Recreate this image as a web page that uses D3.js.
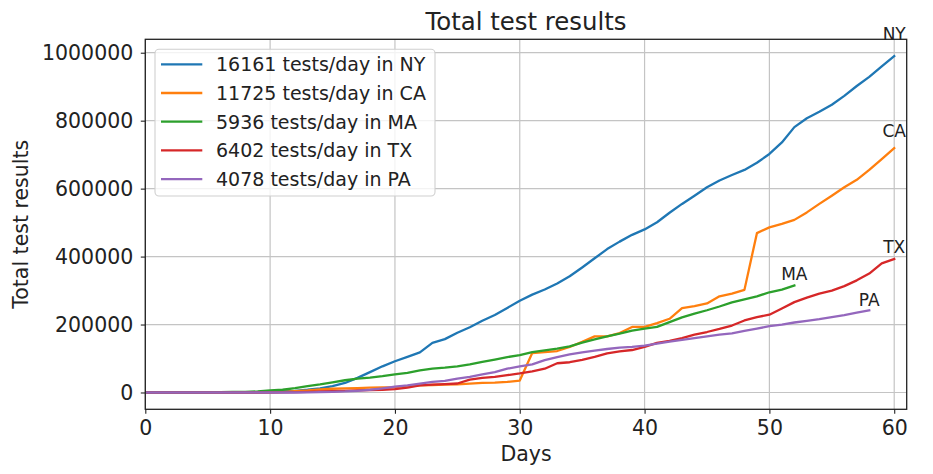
<!DOCTYPE html>
<html>
<head>
<meta charset="utf-8">
<script src="https://cdn.jsdelivr.net/npm/d3@7"></script>
<style>
  html, body { margin: 0; padding: 0; background: #fff; }
  svg { display: block; font-family: "DejaVu Sans", sans-serif; }
</style>
</head>
<body>
<svg id="chart" width="933" height="474"></svg>
<script>
// ---------- data ----------
const seriesNames = ["NY", "CA", "MA", "TX", "PA"];
const legendLabels = [
  "16161 tests/day in NY",
  "11725 tests/day in CA",
  "5936 tests/day in MA",
  "6402 tests/day in TX",
  "4078 tests/day in PA"
];
const colors = ["#1f77b4", "#ff7f0e", "#2ca02c", "#d62728", "#9467bd"];

const nyValues = [0,0,0,0,0,0,0,0,500,1000,
  2000,3000,5000,8000,12000,19000,28000,43000,60000,77000,
  92000,105000,118000,146000,157000,176000,192000,211000,228000,249000,
  270000,288000,303000,321000,342000,368000,395000,422000,444000,464000,
  480000,501000,529000,555000,579000,604000,624000,640000,655000,676000,
  702000,736000,781000,807000,826000,847000,873000,902000,929000,960000,
  990000];
const caValues = [0,0,0,0,0,0,0,0,0,0,
  1000,2000,4000,6000,9000,11000,12000,13000,14000,15000,
  16000,19000,21000,22000,23000,24000,26000,28000,29000,31000,
  35000,116000,119000,122000,134000,149000,165000,165000,175000,193000,
  193000,204000,217000,248000,254000,262000,283000,291000,302000,469000,
  486000,496000,508000,530000,555000,579000,604000,626000,655000,687000,
  719000];
const maValues = [0,0,0,0,0,500,1000,1500,2000,3000,
  6000,8000,13000,19000,24000,30000,36000,41000,44000,48000,
  53000,58000,65000,70000,73000,77000,83000,90000,97000,104000,
  110000,119000,124000,129000,136000,147000,156000,165000,173000,182000,
  188000,193000,207000,221000,232000,242000,253000,265000,274000,283000,
  295000,303000,315000];
const txValues = [0,0,0,0,0,0,0,0,0,0,
  0,500,1000,2000,3000,4000,5000,6000,7000,8000,
  10000,14000,21000,23000,24500,26500,38000,43000,46000,51000,
  56000,62000,70000,86000,89000,96000,105000,115000,121000,125000,
  134000,146000,152000,160000,170000,178000,187000,197000,212000,222000,
  229000,247000,266000,279000,291000,300000,313000,330000,350000,380000,
  393000];
const paValues = [0,0,0,0,0,0,0,0,0,0,
  0,0,0,500,1000,2000,3000,5000,8000,12000,
  17000,21000,26000,31000,34000,41000,46000,53000,60000,70000,
  77000,83000,95000,104000,112000,118000,123000,128000,132000,134000,
  138000,144000,150000,155000,160000,165000,170000,174000,181000,188000,
  195000,200000,206000,211000,216000,222000,228000,235000,242000];

const xTicks = [0, 10, 20, 30, 40, 50, 60];
const yTicks = [0, 200000, 400000, 600000, 800000, 1000000];

const titleText = "Total test results";
const xLabel = "Days";
const yLabel = "Total test results";

// ---------- build series ----------
const allValues = [nyValues, caValues, maValues, txValues, paValues];
const series = seriesNames.map((name, i) => ({
  name, label: legendLabels[i], color: colors[i],
  points: allValues[i].map((v, d) => ({ day: d, value: v }))
}));

// ---------- layout ----------
const svg = d3.select("#chart");
const plot = { left: 145.3, right: 906.7, top: 39.3, bottom: 409.3 };

const maxV = d3.max(series, s => d3.max(s.points, p => p.value));
const minV = 0;
const pad = (maxV - minV) * 0.05;

const x = d3.scaleLinear().domain([0, 61]).range([plot.left, plot.right]);
const y = d3.scaleLinear().domain([minV - pad, maxV + pad]).range([plot.bottom, plot.top]);

// grid
const grid = svg.append("g");
grid.selectAll("line.vx").data(xTicks).enter().append("line")
  .attr("x1", d => x(d)).attr("x2", d => x(d))
  .attr("y1", plot.top).attr("y2", plot.bottom)
  .attr("stroke", "#c4c4c4").attr("stroke-width", 1.2);
grid.selectAll("line.hy").data(yTicks).enter().append("line")
  .attr("x1", plot.left).attr("x2", plot.right)
  .attr("y1", d => y(d)).attr("y2", d => y(d))
  .attr("stroke", "#c4c4c4").attr("stroke-width", 1.2);

// clip
svg.append("clipPath").attr("id", "clip").append("rect")
  .attr("x", plot.left).attr("y", plot.top)
  .attr("width", plot.right - plot.left).attr("height", plot.bottom - plot.top);

// lines
const line = d3.line().x(p => x(p.day)).y(p => y(p.value));
const lines = svg.append("g").attr("clip-path", "url(#clip)");
lines.selectAll("path").data(series).enter().append("path")
  .attr("d", s => line(s.points))
  .attr("fill", "none")
  .attr("stroke", s => s.color)
  .attr("stroke-width", 2.3)
  .attr("stroke-linejoin", "round")
  .attr("stroke-linecap", "square");

// axes
const xAxis = d3.axisBottom(x).tickValues(xTicks).tickSize(4.5).tickPadding(7).tickFormat(d3.format("d"));
const yAxis = d3.axisLeft(y).tickValues(yTicks).tickSize(4.5).tickPadding(7.5).tickFormat(d3.format("d"));

const gx = svg.append("g").attr("transform", `translate(0,${plot.bottom})`).call(xAxis);
const gy = svg.append("g").attr("transform", `translate(${plot.left},0)`).call(yAxis);
[gx, gy].forEach(g => {
  g.select(".domain").remove();
  g.selectAll(".tick line").attr("stroke", "#222").attr("stroke-width", 1.1);
  g.selectAll(".tick text").attr("fill", "#222").style("font-size", "20.5px")
    .style("font-family", "'DejaVu Sans', sans-serif");
});

// frame (spines)
svg.append("rect")
  .attr("x", plot.left).attr("y", plot.top)
  .attr("width", plot.right - plot.left).attr("height", plot.bottom - plot.top)
  .attr("fill", "none").attr("stroke", "#222").attr("stroke-width", 1.3);

// end labels
svg.append("g").selectAll("text").data(series).enter().append("text")
  .attr("x", s => x(s.points[s.points.length - 1].day))
  .attr("y", s => y(s.points[s.points.length - 1].value * 1.047))
  .attr("text-anchor", "middle")
  .attr("fill", "#222")
  .style("font-size", "17px")
  .text(s => s.name);

// title & axis labels
svg.append("text")
  .attr("x", (plot.left + plot.right) / 2).attr("y", 30)
  .attr("text-anchor", "middle").attr("fill", "#222")
  .style("font-size", "24.4px").text(titleText);

svg.append("text")
  .attr("x", (plot.left + plot.right) / 2).attr("y", 461)
  .attr("text-anchor", "middle").attr("fill", "#222")
  .style("font-size", "20.5px").text(xLabel);

svg.append("text")
  .attr("transform", `translate(27.5,${(plot.top + plot.bottom) / 2}) rotate(-90)`)
  .attr("text-anchor", "middle").attr("fill", "#222")
  .style("font-size", "20.5px").text(yLabel);

// legend
const legend = svg.append("g");
legend.append("rect")
  .attr("x", 155).attr("y", 49.3).attr("width", 280).attr("height", 146.7)
  .attr("rx", 4).attr("ry", 4)
  .attr("fill", "rgba(255,255,255,0.8)")
  .attr("stroke", "#d0d0d0").attr("stroke-width", 1.1);
const items = legend.selectAll("g.item").data(series).enter().append("g")
  .attr("transform", (s, i) => `translate(0,${64.3 + i * 28.7})`);
items.append("line")
  .attr("x1", 161).attr("x2", 202.3).attr("y1", 0).attr("y2", 0)
  .attr("stroke", s => s.color).attr("stroke-width", 2.3);
items.append("text")
  .attr("x", 216).attr("y", 7)
  .attr("fill", "#222").style("font-size", "19px")
  .text(s => s.label);
</script>
</body>
</html>
